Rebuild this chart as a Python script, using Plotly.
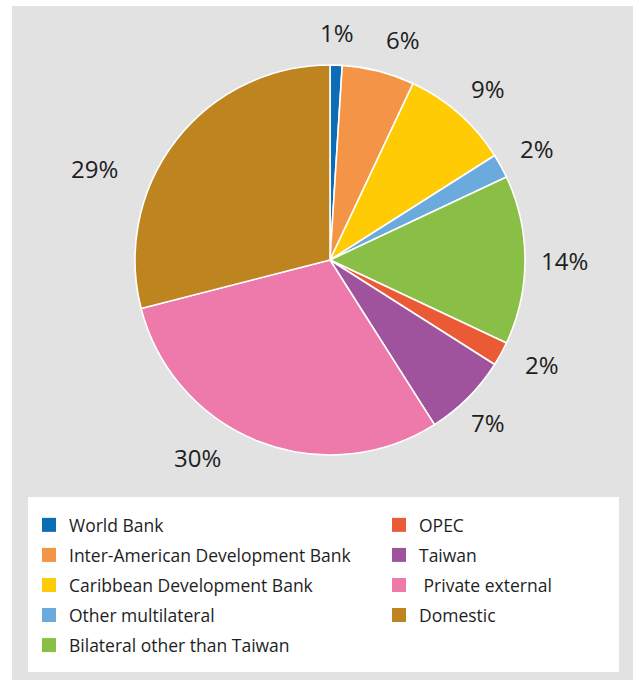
import math
import plotly.graph_objects as go

# Funding sources, clockwise from 12 o'clock
sources = [
    "World Bank",
    "Inter-American Development Bank",
    "Caribbean Development Bank",
    "Other multilateral",
    "Bilateral other than Taiwan",
    "OPEC",
    "Taiwan",
    "\u00a0Private external",
    "Domestic",
]
shares = [1, 6, 9, 2, 14, 2, 7, 30, 29]
colors = [
    "#0b6db6",
    "#f39446",
    "#fecb05",
    "#6aaadc",
    "#89bf46",
    "#ea5b35",
    "#9f539d",
    "#ee79ab",
    "#bd841f",
]
legend_column = [1, 1, 1, 1, 1, 2, 2, 2, 2]

# Page geometry (pixels)
W, H = 635, 680
PIE_CX, PIE_CY, PIE_R = 330, 260, 195

# Outside label placement: angular shift (deg) and distance from centre (px)
label_shift_deg = [0, 4, 1.5, 1, 0.5, -2, 1, 12, -17]
label_radius = [226, 230, 232, 234, 235, 237, 228, 240, 252]

FONT = "Open Sans"
TEXT_COLOR = "#1e1e1e"


def px_x(x):
    return x / W


def px_y(y):
    return 1 - y / H


fig = go.Figure()

fig.add_trace(
    go.Pie(
        labels=sources,
        values=shares,
        sort=False,
        direction="clockwise",
        rotation=0,
        marker=dict(colors=colors, line=dict(color="white", width=1.6)),
        textinfo="none",
        hoverinfo="label+percent",
        showlegend=False,
        domain=dict(
            x=[px_x(PIE_CX - PIE_R), px_x(PIE_CX + PIE_R)],
            y=[px_y(PIE_CY + PIE_R), px_y(PIE_CY - PIE_R)],
        ),
    )
)

# Legend entries, split into two columns
for i, (name, col, c) in enumerate(zip(sources, legend_column, colors)):
    fig.add_trace(
        go.Scatter(
            x=[None],
            y=[None],
            mode="markers",
            name=name,
            legendgroup=f"g{i}",
            legend="legend" if col == 1 else "legend2",
            marker=dict(symbol="square", size=14, color=c, line=dict(width=0)),
            hoverinfo="skip",
        )
    )

# Percentage labels placed around the pie
total = sum(shares)
annotations = []
cum = 0
for v, shift, r in zip(shares, label_shift_deg, label_radius):
    mid = (cum + v / 2) / total * 360 + shift
    cum += v
    a = math.radians(mid)
    x = PIE_CX + r * math.sin(a)
    y = PIE_CY - r * math.cos(a) - 2
    annotations.append(
        dict(
            x=px_x(x),
            y=px_y(y),
            xref="paper",
            yref="paper",
            text=f"{v}%",
            showarrow=False,
            xanchor="center",
            yanchor="middle",
            font=dict(family=FONT, size=24, color=TEXT_COLOR),
        )
    )

legend_common = dict(
    bgcolor="rgba(0,0,0,0)",
    borderwidth=0,
    font=dict(family=FONT, size=17.5, color=TEXT_COLOR),
    traceorder="grouped",
    tracegroupgap=4.3,
    itemsizing="trace",
    xanchor="left",
    yanchor="top",
    itemclick=False,
    itemdoubleclick=False,
)

fig.update_layout(
    width=W,
    height=H,
    margin=dict(l=0, r=0, t=0, b=0),
    paper_bgcolor="white",
    plot_bgcolor="rgba(0,0,0,0)",
    xaxis=dict(visible=False),
    yaxis=dict(visible=False),
    shapes=[
        dict(type="rect", xref="paper", yref="paper",
             x0=px_x(12), x1=px_x(633), y0=px_y(680), y1=px_y(6),
             fillcolor="#e2e2e2", line=dict(width=0), layer="below"),
        dict(type="rect", xref="paper", yref="paper",
             x0=px_x(28), x1=px_x(619), y0=px_y(672), y1=px_y(497),
             fillcolor="white", line=dict(width=0), layer="below"),
    ],
    annotations=annotations,
    legend=dict(x=px_x(29), y=px_y(507), **legend_common),
    legend2=dict(x=px_x(379), y=px_y(507), **legend_common),
)

fig.write_html("out.html")
